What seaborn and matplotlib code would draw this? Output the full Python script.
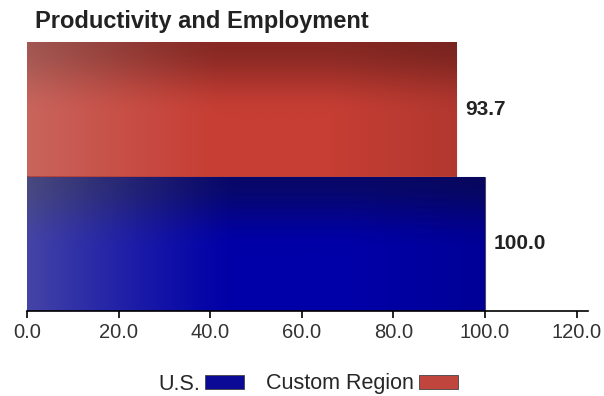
import numpy as np
import pandas as pd
import matplotlib
matplotlib.use("Agg")
import matplotlib.pyplot as plt
from matplotlib.patches import Patch
import seaborn as sns

# Chart data
regions = ["Custom Region", "U.S."]
values = [93.7, 100.0]
value_labels = ["93.7", "100.0"]
x_ticks = [0, 20, 40, 60, 80, 100, 120]
x_tick_labels = ["0.0", "20.0", "40.0", "60.0", "80.0", "100.0", "120.0"]
title = "Productivity and Employment"

# Bar shading: colour at the top and body of each bar, plus the light haze on the left
bar_top = {"Custom Region": (135, 40, 35), "U.S.": (8, 8, 105)}
bar_body = {"Custom Region": (198, 62, 52), "U.S.": (0, 0, 168)}
bar_haze = {"Custom Region": (205, 165, 160), "U.S.": (180, 180, 165)}
legend_colors = {"Custom Region": "#c0453c", "U.S.": "#0a0a96"}

sns.set_theme(style="white")
plt.rcParams["font.family"] = ["Liberation Sans", "DejaVu Sans"]

df = pd.DataFrame({"region": regions, "value": values})

fig = plt.figure(figsize=(6.04, 3.96), dpi=100)
ax = fig.add_axes([27 / 604, 1 - 311 / 396, 561 / 604, 269 / 396])

sns.barplot(data=df, x="value", y="region", hue="region", order=regions,
            palette=legend_colors, orient="h", width=1.0, legend=False,
            ax=ax, edgecolor="none", saturation=1)


def shade(region, nx=300, ny=120):
    """Gradient image for one bar: darker along the top, hazy on the left."""
    top = np.array(bar_top[region], float)
    body = np.array(bar_body[region], float)
    haze = np.array(bar_haze[region], float)
    yy = np.linspace(0, 1, ny)[:, None, None]
    xx = np.linspace(0, 1, nx)[None, :, None]
    v = np.clip(yy / 0.55, 0, 1)
    v = v * v * (3 - 2 * v)
    base = top + (body - top) * v
    h = 0.38 * np.clip(1 - xx / 0.45, 0, 1) ** 1.2
    img = base * (1 - h) + haze * h
    img = img * (1 - 0.10 * np.clip((xx - 0.7) / 0.3, 0, 1))
    return np.clip(img / 255.0, 0, 1)


for patch, region, label in zip(ax.patches, regions, value_labels):
    x0, y0 = patch.get_x(), patch.get_y()
    w, h = patch.get_width(), patch.get_height()
    im = ax.imshow(shade(region), extent=(x0, x0 + w, y0 + h, y0),
                   aspect="auto", origin="upper", zorder=patch.get_zorder() + 0.1,
                   interpolation="bilinear")
    im.set_clip_path(patch)
    patch.set_edgecolor((0.2, 0.1, 0.15, 0.6))
    patch.set_linewidth(0.8)
    ax.text(x0 + w + 1.9, y0 + h / 2, label, va="center", ha="left",
            fontsize=15, fontweight="bold", color="#222222")

ax.set_xlim(0, 122.5)
ax.set_ylim(1.5, -0.5)

ax.set_xticks(x_ticks)
ax.set_xticklabels(x_tick_labels)
ax.set_yticks([])
ax.set_xlabel("")
ax.set_ylabel("")
for side in ["top", "right", "left"]:
    ax.spines[side].set_visible(False)
ax.spines["bottom"].set_color("black")
ax.spines["bottom"].set_linewidth(1.2)
ax.tick_params(axis="x", direction="out", length=5, width=1.2, color="black",
               labelsize=14.5, labelcolor="#333333", pad=4, bottom=True)

fig.text(35 / 604, 1 - 28 / 396, title, fontsize=17, fontweight="bold",
         color="#222222", ha="left", va="baseline")

handles = [Patch(facecolor=legend_colors["U.S."], edgecolor="#444444", linewidth=0.6,
                 label="U.S."),
           Patch(facecolor=legend_colors["Custom Region"], edgecolor="#444444",
                 linewidth=0.6, label="Custom Region")]
fig.legend(handles=handles, loc="center", bbox_to_anchor=(308 / 604, 1 - 384 / 396),
           ncol=2, frameon=False, markerfirst=False, fontsize=15.5,
           handlelength=1.8, handleheight=0.6, handletextpad=0.25, columnspacing=1.0)

fig.savefig("out.png", dpi=100)
